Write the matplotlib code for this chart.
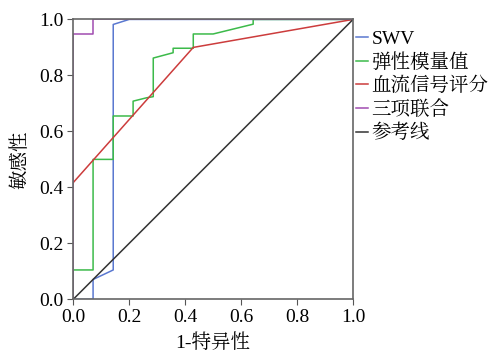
import matplotlib
matplotlib.use("Agg")
import matplotlib.pyplot as plt

plt.rcParams['font.family'] = ['Liberation Serif', 'Noto Serif CJK JP', 'Noto Sans CJK JP']

# ROC curves
swv_x = [0, 0.071, 0.071, 0.143, 0.143, 0.2, 1.0]
swv_y = [0, 0, 0.071, 0.105, 0.982, 1.0, 1.0]

mod_x = [0, 0, 0.071, 0.071, 0.143, 0.143, 0.214, 0.214, 0.262, 0.286, 0.286,
         0.357, 0.357, 0.429, 0.429, 0.5, 0.643, 0.643, 1.0]
mod_y = [0, 0.105, 0.105, 0.5, 0.5, 0.655, 0.655, 0.708, 0.72, 0.724, 0.862,
         0.881, 0.897, 0.897, 0.948, 0.948, 0.983, 1.0, 1.0]

flow_x = [0, 0.429, 1.0]
flow_y = [0.417, 0.9, 1.0]

comb_x = [0, 0, 0.071, 0.071, 1.0]
comb_y = [0, 0.948, 0.948, 1.0, 1.0]

ref_x = [0, 1]
ref_y = [0, 1]

labels = ['SWV', '弹性模量值', '血流信号评分', '三项联合', '参考线']
colors = ['#5a78d0', '#3cba4a', '#cc3c3c', '#a04cb0', '#333333']
ticks = [0, 0.2, 0.4, 0.6, 0.8, 1.0]
tick_labels = ['0.0', '0.2', '0.4', '0.6', '0.8', '1.0']

fig = plt.figure(figsize=(4.98, 3.53), dpi=100)
ax = fig.add_axes([0.147, 0.152, 0.562, 0.793])

ax.plot(swv_x, swv_y, color=colors[0], lw=1.1, label=labels[0])
ax.plot(mod_x, mod_y, color=colors[1], lw=1.1, label=labels[1])
ax.plot(flow_x, flow_y, color=colors[2], lw=1.1, label=labels[2])
ax.plot(comb_x, comb_y, color=colors[3], lw=1.1, label=labels[3])
ax.plot(ref_x, ref_y, color=colors[4], lw=1.1, label=labels[4])

ax.set_xlim(0, 1)
ax.set_ylim(0, 1)
ax.set_xticks(ticks)
ax.set_yticks(ticks)
ax.set_xticklabels(tick_labels)
ax.set_yticklabels(tick_labels)
ax.tick_params(labelsize=14, direction='out', length=4, color='#555555', pad=3)
for s in ax.spines.values():
    s.set_color('#666666')
    s.set_linewidth(1.2)

ax.set_xlabel('1-特异性', fontsize=14, labelpad=5)
ax.set_ylabel('敏感性', fontsize=14, labelpad=7)

ax.legend(loc='upper left', bbox_to_anchor=(1.01, 0.96), frameon=False,
          fontsize=14, handlelength=0.6, handletextpad=0.2, labelspacing=0.25,
          borderaxespad=0, borderpad=0)

fig.savefig('out.png', dpi=100)
